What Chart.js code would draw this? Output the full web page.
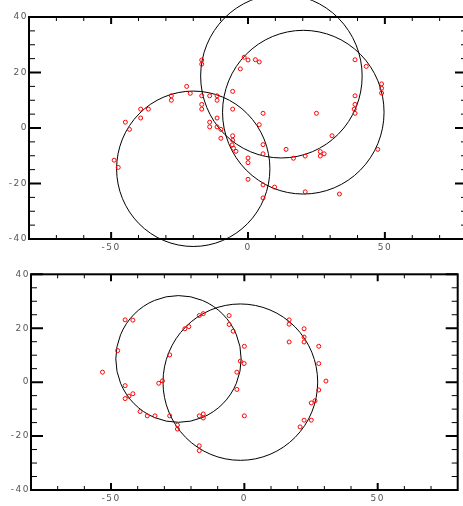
<!DOCTYPE html>
<html>
<head>
<meta charset="utf-8">
<script src="https://cdn.jsdelivr.net/npm/chart.js@4.4.0/dist/chart.umd.min.js"></script>
<style>
  html, body { margin: 0; padding: 0; background: #fff; overflow: hidden; width: 463px; height: 506px; }
  canvas { position: absolute; left: 0; }
  #topChart { top: 0; }
  #bottomChart { top: 256px; }
</style>
</head>
<body>
<canvas id="topChart" width="480" height="256"></canvas>
<canvas id="bottomChart" width="463" height="250"></canvas>
<script>
// Top panel: sample points
const topX = [-16.9, -16.9, -1.4, 0, -2.8, -22.4, -21.1, -28.0, -28.0, -16.9, -14.0, -11.3, -11.3,
              -5.6, -5.6, -16.9, -16.9, -39.2, -36.4, -39.2, -44.8, -43.3, -14.0, -14.0, -11.3, -11.3,
              -9.9, -9.9, -5.6, -5.6, -5.8, -5.3, -4.4, 0, 0, -48.9, -47.4, 0,
              2.7, 4.1, 39.1, 43.2, 48.8, 48.8, 48.8, 39.1, 39.1, 38.8, 39.1, 5.5, 25.0, 4.1, 30.7,
              5.5, 13.9, 5.5, 16.6, 20.9, 26.4, 26.4, 27.8, 47.4, 5.5, 9.7, 20.9, 33.4, 5.5];
const topY = [24.5, 23.0, 25.5, 24.5, 21.3, 15.0, 12.5, 11.6, 10.0, 11.6, 11.6, 11.6, 10.0,
              13.2, 6.8, 8.5, 6.8, 6.8, 6.8, 3.6, 2.1, -0.5, 2.1, 0.4, 3.6, 0.4,
              -0.5, -3.7, -2.8, -4.4, -6.1, -7.3, -8.4, -10.8, -12.5, -11.6, -14.2, -18.5,
              24.6, 23.8, 24.6, 22.2, 15.9, 14.3, 12.6, 11.6, 8.5, 6.8, 5.3, 5.3, 5.3, 1.2, -2.8,
              -6.0, -7.7, -9.3, -10.9, -10.1, -8.5, -10.1, -9.3, -7.7, -20.5, -21.3, -23.0, -23.8, -25.2];

// Top panel: circles (centre x, centre y, radius)
const topCircleX = [-20, 12.2, 20.2];
const topCircleY = [-14.7, 18.7, 5.7];
const topCircleR = [28, 29.5, 29.5];

// Bottom panel: sample points
const bottomX = [-44.7, -41.8, -47.5, -53.2, -44.7, -41.8, -43.3, -44.7, -39.1, -36.4, -33.5, -32.1,
                 -30.7, -28.0, -28.0, -25.1, -25.1, -22.3, -20.8, -16.9, -15.4, -5.7, -5.7, -4.2,
                 0, -1.5, -0.1, -2.8, -2.8, -16.9, -15.4, -15.4, 0, -16.9, -16.9,
                 16.8, 16.8, 22.4, 16.8, 22.4, 22.4, 27.9, 27.9, 30.6, 27.9, 26.5, 25.1, 22.4, 25.1, 20.9];
const bottomY = [23.1, 23.0, 11.7, 3.7, -1.3, -4.3, -5.2, -6.1, -10.9, -12.5, -12.5, -0.4,
                 0.5, -12.5, 10.1, -15.9, -17.4, 19.8, 20.6, 24.7, 25.4, 24.7, 21.4, 18.9,
                 13.3, 7.8, 6.9, 3.7, -2.7, -12.5, -11.8, -13.3, -12.5, -23.6, -25.4,
                 23.1, 21.5, 19.8, 14.9, 16.7, 14.9, 13.3, 6.9, 0.4, -2.9, -6.9, -7.7, -14.1, -14.1, -16.6];

// Bottom panel: circles
const bottomCircleX = [-24.7, -1.5];
const bottomCircleY = [8.6, 0];
const bottomCircleR = [23.5, 29];

// Axis ticks
const xMajor = [-50, 0, 50];
const xMinor = [-70, -60, -40, -30, -20, -10, 10, 20, 30, 40, 60, 70];
const yMajor = [-40, -20, 0, 20, 40];
const yMinor = [-35, -30, -25, -15, -10, -5, 5, 10, 15, 25, 30, 35];

function toPoints(xs, ys) {
    return xs.map((v, i) => ({ x: v, y: ys[i] }));
}

// Draw the outline circles in data space (not clipped to the plot box)
const circlePlugin = {
    id: 'circles',
    beforeDatasetsDraw(chart, args, opts) {
        const { ctx, scales: { x, y } } = chart;
        ctx.save();
        ctx.strokeStyle = '#000';
        ctx.lineWidth = 1;
        opts.cx.forEach((c, i) => {
            const px = x.getPixelForValue(c);
            const py = y.getPixelForValue(opts.cy[i]);
            const rx = Math.abs(x.getPixelForValue(c + opts.r[i]) - px);
            const ry = Math.abs(y.getPixelForValue(opts.cy[i] + opts.r[i]) - py);
            ctx.beginPath();
            ctx.ellipse(px, py, rx, ry, 0, 0, Math.PI * 2);
            ctx.stroke();
        });
        ctx.restore();
    }
};

// Box frame with inward ticks on all four sides
const framePlugin = {
    id: 'frame',
    beforeDraw(chart) {
        chart.ctx.letterSpacing = '1.5px';
    },
    afterDraw(chart) {
        const { ctx, chartArea: a, scales: { x, y } } = chart;
        ctx.save();
        ctx.strokeStyle = '#000';
        const tick = (vals, len, width, isX) => {
            ctx.lineWidth = width;
            ctx.beginPath();
            vals.forEach(v => {
                if (isX) {
                    const px = x.getPixelForValue(v);
                    ctx.moveTo(px, a.bottom); ctx.lineTo(px, a.bottom - len);
                    ctx.moveTo(px, a.top); ctx.lineTo(px, a.top + len);
                } else {
                    const py = y.getPixelForValue(v);
                    ctx.moveTo(a.left, py); ctx.lineTo(a.left + len, py);
                    ctx.moveTo(a.right, py); ctx.lineTo(a.right - len, py);
                }
            });
            ctx.stroke();
        };
        tick(xMinor, 4, 1, true);
        tick(xMajor, 7, 2, true);
        tick(yMinor, 6, 1, false);
        tick(yMajor, 12, 2, false);
        ctx.lineWidth = 2;
        ctx.strokeRect(a.left, a.top, a.width, a.height);
        ctx.restore();
    }
};

function makeChart(id, xs, ys, circles, layout) {
    const tickFont = { family: 'DejaVu Sans', size: 9 };
    return new Chart(document.getElementById(id), {
        type: 'scatter',
        data: {
            datasets: [{
                data: toPoints(xs, ys),
                borderColor: '#ff0000',
                backgroundColor: 'rgba(0,0,0,0)',
                borderWidth: 1,
                pointRadius: 2,
                pointHoverRadius: 2
            }]
        },
        options: {
            responsive: false,
            animation: false,
            events: [],
            layout: { padding: layout.padding },
            plugins: {
                legend: { display: false },
                tooltip: { enabled: false },
                circles: circles
            },
            scales: {
                x: {
                    type: 'linear',
                    min: -80,
                    max: 80,
                    afterBuildTicks: s => { s.ticks = xMajor.map(v => ({ value: v })); },
                    afterFit: s => { s.height = layout.xHeight; },
                    grid: { display: false, drawTicks: false },
                    border: { display: false },
                    ticks: { font: tickFont, color: '#555', padding: 3, maxRotation: 0, autoSkip: false }
                },
                y: {
                    type: 'linear',
                    min: -40,
                    max: 40,
                    afterBuildTicks: s => { s.ticks = yMajor.map(v => ({ value: v })); },
                    afterFit: s => { s.width = layout.yWidth; },
                    grid: { display: false, drawTicks: false },
                    border: { display: false },
                    ticks: { font: tickFont, color: '#555', padding: 1 }
                }
            }
        },
        plugins: [circlePlugin, framePlugin]
    });
}

makeChart('topChart', topX, topY,
    { cx: topCircleX, cy: topCircleY, r: topCircleR },
    { padding: { top: 17, right: 13, left: 0, bottom: 0 }, xHeight: 17, yWidth: 29 });

makeChart('bottomChart', bottomX, bottomY,
    { cx: bottomCircleX, cy: bottomCircleY, r: bottomCircleR },
    { padding: { top: 18.3, right: 5.3, left: 0, bottom: 0 }, xHeight: 16, yWidth: 31 });
</script>
</body>
</html>
